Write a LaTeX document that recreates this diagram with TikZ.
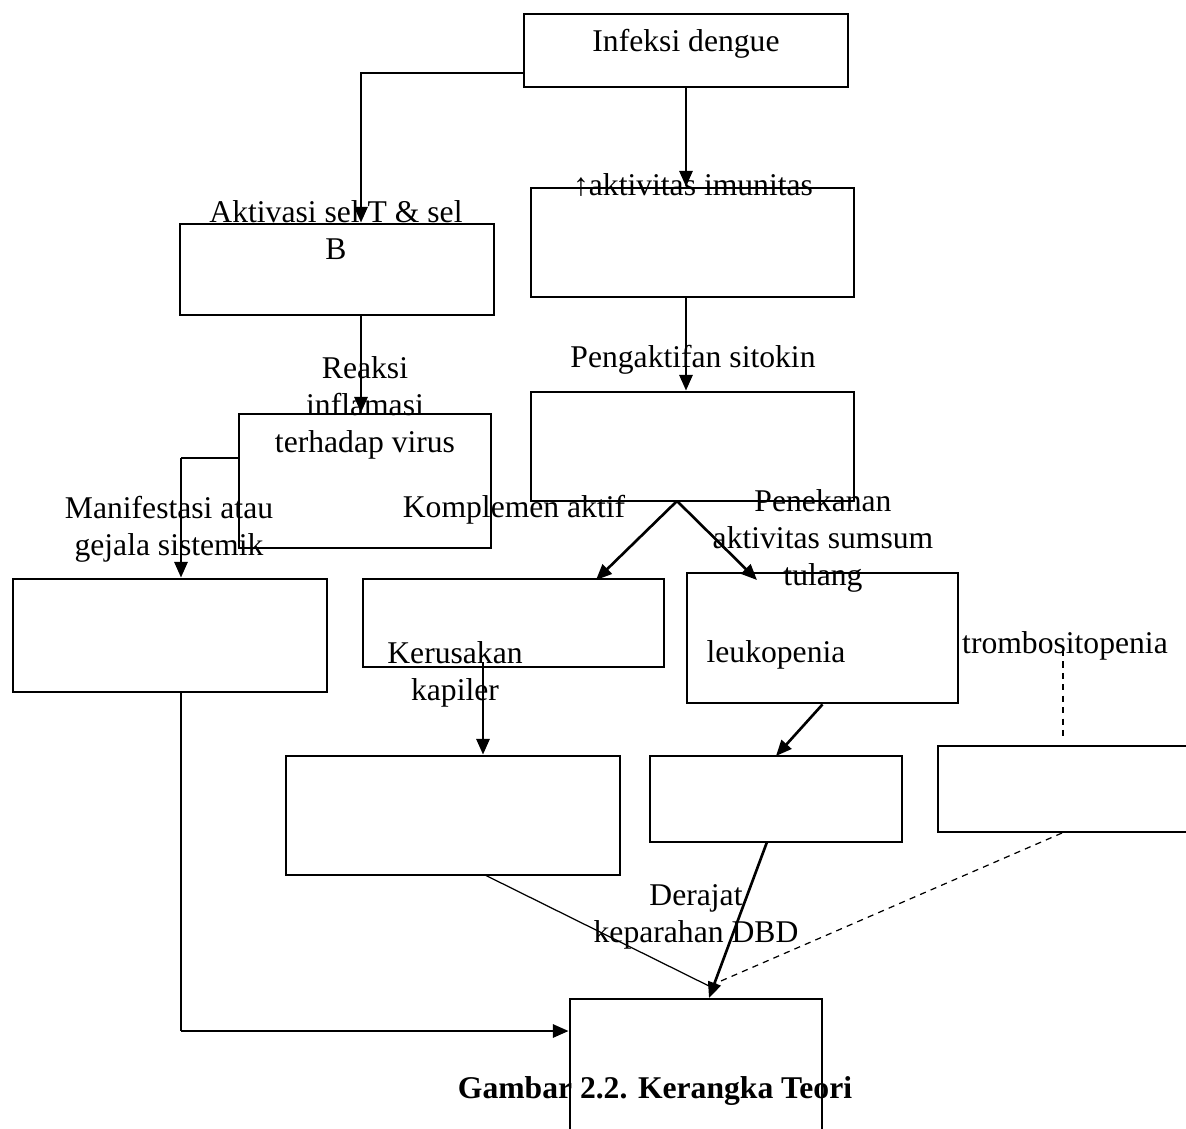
\documentclass[tikz,border=0pt]{standalone}
\usepackage{fontspec}
\setmainfont{Liberation Serif}
\usetikzlibrary{arrows, arrows.meta}
\usetikzlibrary{calc}

\begin{document}
\begin{tikzpicture}[x=0.2mm, y=-0.2mm,
      box/.style={draw, rectangle, line width=1.6pt, inner sep=0pt},
      txt/.style={inner sep=0pt, anchor=base, align=center, font=\fontsize{18pt}{21pt}\selectfont},
      arr/.style={-{Triangle[length=9pt, width=7.5pt]}, line width=1.5pt},
      fine/.style={line width=0.7pt}]
      \useasboundingbox (0,0) rectangle (1186,1128);

      \node[box, minimum width=6.48cm, minimum height=1.46cm] (1) at (686,50.5) {};
      \node[box, minimum width=6.28cm, minimum height=1.82cm] (2) at (337,269.5) {};
      \node[box, minimum width=6.46cm, minimum height=2.18cm] (3) at (692.5,242.5) {};
      \node[box, minimum width=5.04cm, minimum height=2.68cm] (4) at (365,481) {};
      \node[box, minimum width=6.46cm, minimum height=2.18cm] (5) at (692.5,446.5) {};
      \node[box, minimum width=6.28cm, minimum height=2.26cm] (6) at (170,635.5) {};
      \node[box, minimum width=6.02cm, minimum height=1.76cm] (7) at (513.5,623) {};
      \node[box, minimum width=5.42cm, minimum height=2.60cm] (8) at (822.5,638) {};
      \node[box, minimum width=6.68cm, minimum height=2.38cm] (9) at (453,815.5) {};
      \node[box, minimum width=5.04cm, minimum height=1.72cm] (10) at (776,799) {};
      \node[box, minimum width=5.24cm, minimum height=1.72cm] (11) at (1069,789) {};
      \node[box, minimum width=5.04cm, minimum height=2.82cm] (12) at (696,1069.5) {};

      % multi-line labels sit on their last line
      \node[txt] (infeksi) at (686,51) {Infeksi dengue};
      \node[txt] (aktivasi) at (336,259) {Aktivasi sel T \& sel\\B};
      \node[txt] (imunitas) at (693,195) {↑aktivitas imunitas};
      \node[txt] (reaksi) at (365,452) {Reaksi\\inflamasi\\terhadap virus};
      \node[txt] (sitokin) at (693,367) {Pengaktifan sitokin};
      \node[txt] (manifestasi) at (169,555) {Manifestasi atau\\gejala sistemik};
      \node[txt] (komplemen) at (514,517) {Komplemen aktif};
      \node[txt] (penekanan) at (823,585) {Penekanan\\aktivitas sumsum\\tulang};
      \node[txt] (kerusakan) at (455,700) {Kerusakan\\kapiler};
      \node[txt] (leukopenia) at (776,662) {leukopenia};
      \node[txt] (trombosito) at (1065,653) {trombositopenia};
      \node[txt] (derajat) at (696,942) {Derajat\\keparahan DBD};
      \node[txt, font=\fontsize{18pt}{21pt}\selectfont\bfseries] (caption) at (655,1098) {Gambar 2.2. Kerangka Teori};

      \coordinate (c1) at (361,73);
      \coordinate (c2) at (181,458);
      \coordinate (c3) at (677,501);
      \coordinate (c4) at (596,580);
      \coordinate (c5) at (757,580);
      \coordinate (c6) at (776,756);
      \coordinate (c7) at (483,662);
      \coordinate (c8) at (1063,650);
      \coordinate (c9) at (181,1031);
      \coordinate (c10) at (485,875);
      \coordinate (c11) at (767,842);
      \coordinate (c12) at (1062,833);
      \coordinate (tip) at (709,998);

      \draw[arr] (1.west |- c1) -- (c1) -- (c1 |- 2.north);
      \draw[arr] (1.south) -- (1.south |- 3.north);
      \draw[arr] (c1 |- 2.south) -- (c1 |- 4.north);
      \draw[arr] (1.south |- 3.south) -- (1.south |- 5.north);
      \draw[fine] (4.west |- c2) -- (c2);
      \draw[arr] (c2) -- (c2 |- 6.north);
      \draw[arr] (c3) -- (c4);
      \draw[arr] (c3) -- (c5);
      \draw[arr] (8.south) -- (c6);
      \draw[arr] (c7) -- (c7 |- 9.north);
      \draw[fine, dash pattern=on 3.5pt off 3pt] (c8) -- ($(c8 |- 11.north)+(0,-5)$);
      \draw[fine] (c9 |- 6.south) -- (c9);
      \draw[arr] (c9) -- (c9 -| 12.west);
      \draw[fine] (c10) -- ($(tip)+(0,-12)$);
      \draw[arr] (c11) -- (tip);
      \draw[fine, dash pattern=on 3.5pt off 3pt] (c12) -- ($(tip)+(5,-14)$);
    \end{tikzpicture}
\end{document}
